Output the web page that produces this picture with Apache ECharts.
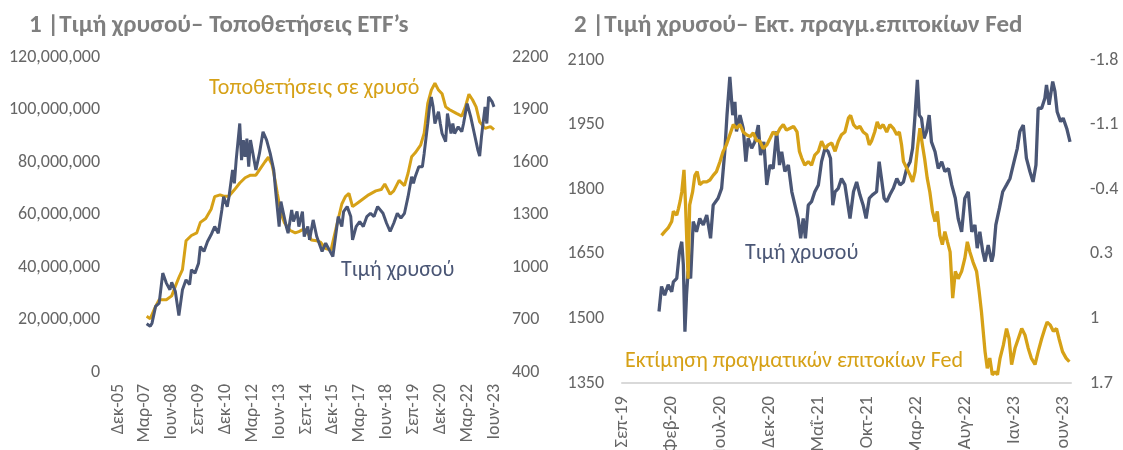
<!DOCTYPE html>
<html>
<head>
<meta charset="utf-8">
<script src="https://cdn.jsdelivr.net/npm/echarts@6/dist/echarts.min.js"></script>
<style>
  html, body { margin: 0; padding: 0; background: #ffffff; }
  #chart { width: 1123px; height: 450px; }
</style>
</head>
<body>
<div id="chart"></div>
<script>
// ---- Panel 1: gold price vs. gold ETF holdings (monthly) ----
const panel1Title = '1 |Τιμή χρυσού– Τοποθετήσεις ETF’s';
const panel1Ticks = ['Δεκ-05','Μαρ-07','Ιουν-08','Σεπ-09','Δεκ-10','Μαρ-12','Ιουν-13','Σεπ-14','Δεκ-15','Μαρ-17','Ιουν-18','Σεπ-19','Δεκ-20','Μαρ-22','Ιουν-23'];

// ETF holdings, millions of ounces
const etfHoldings = [
  ['2007-04',21.2],['2007-06',20.3],['2007-09',25],['2007-11',27.5],['2008-03',27.5],['2008-06',29],
  ['2008-08',32.6],['2008-10',36],['2008-12',39],['2009-02',50],['2009-05',52],['2009-08',53],
  ['2009-10',57],['2010-01',58.5],['2010-04',62],['2010-06',66.8],['2010-09',67.5],['2010-11',67],
  ['2011-02',67],['2011-05',69.4],['2011-08',72],['2011-11',74],['2012-02',75],['2012-05',75],
  ['2012-07',77],['2012-10',80],['2012-12',81.8],['2013-02',79],['2013-03',75.8],['2013-05',68],
  ['2013-07',60.6],['2013-09',56.8],['2013-12',54],['2014-03',53],['2014-05',53.5],['2014-08',54.5],
  ['2014-10',53],['2014-12',50.3],['2015-03',50],['2015-05',49.5],['2015-08',47],['2015-11',46.5],
  ['2016-02',55.4],['2016-05',64],['2016-07',66.8],['2016-09',68],['2016-11',63],['2017-02',64.5],
  ['2017-05',66],['2017-08',67.5],['2017-12',69],['2018-03',69.5],['2018-05',71.6],['2018-08',67.7],
  ['2018-10',69],['2019-01',73],['2019-04',71],['2019-06',75.7],['2019-08',82],['2019-10',83.5],
  ['2019-11',83.5],['2020-01',86.4],['2020-03',91],['2020-05',102.3],['2020-07',107.4],['2020-09',110],
  ['2020-11',107.4],['2021-01',106],['2021-03',101],['2021-05',100],['2021-09',98.5],['2021-12',97.5],
  ['2022-02',101],['2022-04',105.8],['2022-06',103.7],['2022-08',101],['2022-10',95.3],['2023-01',92.8],
  ['2023-04',93.5],['2023-06',92.3]
];

// Gold price, USD per ounce (monthly)
const goldPriceMonthly = [
  ['2007-04',676],['2007-06',661],['2007-07',679],['2007-09',775],['2007-11',794],['2008-01',965],
  ['2008-03',908],['2008-05',870],['2008-06',913],['2008-08',861],['2008-10',722],['2008-12',870],
  ['2009-02',927],['2009-04',899],['2009-05',984],['2009-07',965],['2009-09',1022],['2009-10',1117],
  ['2009-12',1089],['2010-02',1146],['2010-04',1184],['2010-06',1231],['2010-08',1193],['2010-10',1326],
  ['2010-11',1402],['2011-01',1345],['2011-02',1402],['2011-04',1554],['2011-05',1478],['2011-06',1611],
  ['2011-08',1820],['2011-09',1611],['2011-10',1725],['2011-11',1630],['2011-12',1734],['2012-01',1573],
  ['2012-02',1725],['2012-03',1668],['2012-05',1554],['2012-07',1649],['2012-09',1773],['2012-11',1725],
  ['2013-01',1649],['2013-03',1554],['2013-04',1440],['2013-06',1231],['2013-07',1374],['2013-08',1326],
  ['2013-10',1231],['2013-11',1193],['2014-01',1326],['2014-02',1260],['2014-04',1317],['2014-05',1231],
  ['2014-07',1317],['2014-08',1174],['2014-10',1231],['2014-11',1155],['2015-01',1269],['2015-03',1174],
  ['2015-04',1184],['2015-06',1089],['2015-08',1136],['2015-10',1098],['2015-12',1060],['2016-02',1212],
  ['2016-03',1288],['2016-05',1231],['2016-06',1317],['2016-08',1345],['2016-10',1288],['2016-11',1155],
  ['2017-01',1231],['2017-03',1260],['2017-05',1231],['2017-07',1288],['2017-09',1307],['2017-11',1288],
  ['2018-01',1345],['2018-04',1307],['2018-06',1250],['2018-08',1203],['2018-10',1250],['2018-12',1307],
  ['2019-02',1279],['2019-04',1307],['2019-06',1402],['2019-08',1516],['2019-09',1478],['2019-10',1516],
  ['2019-12',1573],['2020-02',1573],['2020-03',1649],['2020-05',1820],['2020-06',1915],['2020-07',1972],
  ['2020-08',1915],['2020-09',1820],['2020-11',1887],['2020-12',1820],['2021-01',1763],['2021-03',1716],
  ['2021-04',1877],['2021-06',1763],['2021-07',1820],['2021-08',1763],['2021-10',1801],['2021-12',1773],
  ['2022-01',1820],['2022-03',1934],['2022-05',1858],['2022-07',1763],['2022-09',1668],['2022-10',1634],
  ['2022-11',1744],['2023-01',1915],['2023-02',1820],['2023-03',1972],['2023-04',1981],['2023-05',1943],
  ['2023-06',1915]
];

// ---- Panel 2: gold price vs. Fed real rate estimate (daily) ----
const panel2Title = '2 |Τιμή χρυσού– Εκτ. πραγμ.επιτοκίων Fed';
const panel2Ticks = ['Σεπ-19','Φεβ-20','Ιουλ-20','Δεκ-20','Μαΐ-21','Οκτ-21','Μαρ-22','Αυγ-22','Ιαν-23','Ιουν-23'];

const goldPriceDaily = [
  ['2019-12-25',1516],['2020-01-02',1574],['2020-01-12',1554],['2020-01-23',1578],['2020-02-03',1562],
  ['2020-02-08',1585],['2020-02-18',1593],['2020-02-26',1655],['2020-03-04',1678],['2020-03-09',1624],
  ['2020-03-14',1469],['2020-03-19',1554],['2020-03-24',1609],['2020-04-01',1593],['2020-04-09',1725],
  ['2020-04-19',1701],['2020-04-29',1732],['2020-05-10',1717],['2020-05-21',1740],['2020-06-02',1686],
  ['2020-06-10',1763],['2020-06-25',1779],['2020-07-06',1802],['2020-07-16',1887],['2020-07-23',1972],
  ['2020-08-01',2061],['2020-08-10',1972],['2020-08-17',2003],['2020-08-22',1934],['2020-09-02',1972],
  ['2020-09-12',1941],['2020-09-20',1864],['2020-09-27',1918],['2020-10-08',1895],['2020-10-18',1910],
  ['2020-10-29',1949],['2020-11-05',1879],['2020-11-15',1910],['2020-11-24',1810],['2020-12-04',1856],
  ['2020-12-14',1848],['2020-12-25',1934],['2021-01-03',1856],['2021-01-10',1887],['2021-01-20',1841],
  ['2021-01-31',1856],['2021-02-10',1794],['2021-02-19',1763],['2021-02-28',1732],['2021-03-08',1686],
  ['2021-03-16',1732],['2021-03-23',1686],['2021-04-01',1763],['2021-04-11',1771],['2021-04-21',1794],
  ['2021-05-02',1810],['2021-05-12',1864],['2021-05-23',1895],['2021-06-02',1887],['2021-06-09',1872],
  ['2021-06-16',1763],['2021-06-23',1794],['2021-07-03',1802],['2021-07-13',1825],['2021-07-24',1810],
  ['2021-08-04',1756],['2021-08-09',1732],['2021-08-20',1794],['2021-08-30',1817],['2021-09-09',1787],
  ['2021-09-19',1763],['2021-09-28',1732],['2021-10-08',1779],['2021-10-18',1787],['2021-10-31',1794],
  ['2021-11-08',1864],['2021-11-15',1825],['2021-11-23',1779],['2021-12-01',1771],['2021-12-11',1787],
  ['2021-12-22',1802],['2022-01-02',1825],['2022-01-12',1810],['2022-01-23',1817],['2022-02-02',1848],
  ['2022-02-12',1864],['2022-02-19',1895],['2022-02-26',1972],['2022-03-05',2054],['2022-03-11',1972],
  ['2022-03-18',1965],['2022-03-26',1918],['2022-04-03',1934],['2022-04-11',1972],['2022-04-18',1910],
  ['2022-04-29',1887],['2022-05-09',1848],['2022-05-20',1864],['2022-05-30',1841],['2022-06-10',1848],
  ['2022-06-20',1810],['2022-07-01',1779],['2022-07-10',1732],['2022-07-21',1701],['2022-07-31',1779],
  ['2022-08-11',1794],['2022-08-22',1701],['2022-09-01',1717],['2022-09-08',1663],['2022-09-16',1701],
  ['2022-09-25',1655],['2022-10-02',1632],['2022-10-12',1670],['2022-10-23',1632],['2022-10-28',1647],
  ['2022-11-05',1717],['2022-11-16',1756],['2022-11-26',1794],['2022-12-08',1810],['2022-12-19',1825],
  ['2022-12-29',1856],['2023-01-11',1895],['2023-01-19',1934],['2023-01-30',1949],['2023-02-08',1872],
  ['2023-02-18',1841],['2023-02-27',1817],['2023-03-08',1856],['2023-03-15',1988],['2023-03-26',1988],
  ['2023-04-05',2011],['2023-04-10',2042],['2023-04-18',1996],['2023-04-29',2050],['2023-05-06',2027],
  ['2023-05-13',1980],['2023-05-24',1957],['2023-06-01',1965],['2023-06-12',1941],['2023-06-22',1910]
];

// Fed real rate estimate, % (plotted on an inverted axis)
const realRateEstimate = [
  ['2020-01-02',0.10],['2020-01-12',0.06],['2020-01-23',0.02],['2020-02-03',-0.05],['2020-02-08',-0.16],
  ['2020-02-18',-0.12],['2020-02-23',-0.19],['2020-02-28',-0.27],['2020-03-04',-0.37],['2020-03-11',-0.61],
  ['2020-03-16',-0.23],['2020-03-24',0.57],['2020-03-29',-0.23],['2020-04-07',-0.37],['2020-04-14',-0.55],
  ['2020-04-21',-0.59],['2020-04-29',-0.45],['2020-05-10',-0.48],['2020-05-21',-0.48],['2020-05-31',-0.50],
  ['2020-06-10',-0.55],['2020-06-20',-0.59],['2020-07-01',-0.70],['2020-07-11',-0.81],['2020-07-21',-0.88],
  ['2020-08-01',-0.99],['2020-08-12',-1.10],['2020-08-22',-1.06],['2020-09-02',-1.10],['2020-09-12',-1.02],
  ['2020-09-22',-0.99],['2020-10-03',-0.97],['2020-10-13',-1.01],['2020-10-23',-0.93],['2020-11-03',-0.92],
  ['2020-11-13',-0.84],['2020-11-24',-0.88],['2020-12-04',-0.95],['2020-12-14',-1.02],['2020-12-25',-0.99],
  ['2021-01-05',-1.06],['2021-01-15',-1.10],['2021-01-25',-1.04],['2021-02-05',-1.06],['2021-02-15',-1.08],
  ['2021-02-25',-1.02],['2021-03-04',-0.81],['2021-03-11',-0.74],['2021-03-21',-0.66],['2021-04-01',-0.70],
  ['2021-04-11',-0.66],['2021-04-21',-0.77],['2021-05-02',-0.81],['2021-05-12',-0.92],['2021-05-23',-0.84],
  ['2021-06-02',-0.88],['2021-06-13',-0.90],['2021-06-23',-0.81],['2021-07-03',-0.92],['2021-07-13',-0.99],
  ['2021-07-24',-1.02],['2021-08-04',-1.17],['2021-08-11',-1.20],['2021-08-20',-1.10],['2021-08-30',-1.06],
  ['2021-09-09',-1.08],['2021-09-19',-1.02],['2021-09-30',-0.99],['2021-10-08',-0.88],['2021-10-15',-0.92],
  ['2021-10-25',-1.02],['2021-11-02',-1.13],['2021-11-10',-1.06],['2021-11-20',-1.10],['2021-12-01',-1.02],
  ['2021-12-11',-1.10],['2021-12-22',-1.06],['2022-01-02',-0.99],['2022-01-10',-1.02],['2022-01-17',-0.88],
  ['2022-01-23',-0.70],['2022-02-02',-0.63],['2022-02-12',-0.55],['2022-02-19',-0.48],['2022-02-26',-0.59],
  ['2022-03-05',-0.84],['2022-03-13',-1.06],['2022-03-21',-0.88],['2022-03-28',-0.73],['2022-04-05',-0.52],
  ['2022-04-13',-0.37],['2022-04-21',-0.16],['2022-04-29',-0.05],['2022-05-06',-0.16],['2022-05-14',0.10],
  ['2022-05-22',0.20],['2022-05-30',0.06],['2022-06-07',0.17],['2022-06-15',0.28],['2022-06-23',0.78],
  ['2022-07-01',0.49],['2022-07-10',0.57],['2022-07-21',0.49],['2022-07-31',0.35],['2022-08-08',0.17],
  ['2022-08-16',0.28],['2022-08-26',0.39],['2022-09-06',0.49],['2022-09-14',0.71],['2022-09-21',0.93],
  ['2022-10-02',1.36],['2022-10-09',1.54],['2022-10-17',1.43],['2022-10-25',1.61],['2022-11-03',1.58],
  ['2022-11-10',1.61],['2022-11-18',1.43],['2022-11-28',1.29],['2022-12-08',1.11],['2022-12-16',1.22],
  ['2022-12-24',1.50],['2023-01-04',1.32],['2023-01-14',1.22],['2023-01-25',1.11],['2023-02-04',1.18],
  ['2023-02-13',1.32],['2023-02-22',1.43],['2023-03-05',1.50],['2023-03-15',1.36],['2023-03-26',1.22],
  ['2023-04-05',1.11],['2023-04-12',1.04],['2023-04-21',1.07],['2023-05-01',1.14],['2023-05-11',1.11],
  ['2023-05-19',1.22],['2023-05-30',1.36],['2023-06-10',1.43],['2023-06-20',1.47]
];

// ---- helpers: dates -> months elapsed since the first tick of each panel ----
function monthsSince(dateStr, baseYear, baseMonth) {
  const p = dateStr.split('-').map(Number);
  const y = p[0], m = p[1], d = p[2] || 1;
  const daysInMonth = new Date(y, m, 0).getDate();
  return (y - baseYear) * 12 + (m - baseMonth) + (d - 1) / daysInMonth;
}
const toPanel1 = rows => rows.map(r => [monthsSince(r[0], 2005, 12), r[1]]);
const toPanel2 = rows => rows.map(r => [monthsSince(r[0], 2019, 9), r[1]]);
const withCommas = v => String(Math.round(v)).replace(/\B(?=(\d{3})+(?!\d))/g, ',');
const plain = v => String(v);

const FONT = 'Carlito';
const GOLD = '#d6a117';
const SLATE = '#4a5675';
const LABEL = '#666666';
const TITLE = '#7f7f7f';

const tickLabel = (ticks, step) => v => {
  const i = v / step;
  return Math.abs(i - Math.round(i)) < 1e-6 ? (ticks[Math.round(i)] || '') : '';
};

const baseAxisLabel = { color: LABEL, fontFamily: FONT, fontSize: 18 };
const hidden = { axisLine: { show: false }, axisTick: { show: false }, splitLine: { show: false } };

const option = {
  backgroundColor: '#ffffff',
  animation: false,
  title: [
    { text: panel1Title, left: 24, top: 8,
      textStyle: { fontFamily: FONT, fontSize: 25, fontWeight: 'bold', color: TITLE } },
    { text: panel2Title, left: 569, top: 8,
      textStyle: { fontFamily: FONT, fontSize: 25, fontWeight: 'bold', color: TITLE } }
  ],
  // plot areas are fixed; rotated date labels may run off the bottom edge
  grid: [
    { left: 118, right: 629, top: 57, bottom: 78, containLabel: false, outerBoundsMode: 'none' },
    { left: 622, right: 52, top: 60, bottom: 67, containLabel: false, outerBoundsMode: 'none' }
  ],
  xAxis: [
    { gridIndex: 0, type: 'value', min: 0, max: 210, interval: 15, ...hidden,
      axisLabel: { ...baseAxisLabel, rotate: 90, margin: 12,
        formatter: tickLabel(panel1Ticks, 15) } },
    { gridIndex: 1, type: 'value', min: 0, max: 45.8, interval: 5,
      axisLine: { show: true, onZero: false, lineStyle: { color: '#d9d9d9', width: 2 } },
      axisTick: { show: false }, splitLine: { show: false },
      axisLabel: { ...baseAxisLabel, fontSize: 18.5, rotate: 90, margin: 13, showMaxLabel: false,
        formatter: tickLabel(panel2Ticks, 5) } }
  ],
  yAxis: [
    { gridIndex: 0, type: 'value', position: 'left', min: 0, max: 120, interval: 20, ...hidden,
      axisLabel: { ...baseAxisLabel, margin: 18, formatter: v => withCommas(v * 1e6) } },
    { gridIndex: 0, type: 'value', position: 'right', min: 400, max: 2200, interval: 300, ...hidden,
      axisLabel: { ...baseAxisLabel, margin: 18, formatter: plain } },
    { gridIndex: 1, type: 'value', position: 'left', min: 1350, max: 2100, interval: 150, ...hidden,
      axisLabel: { ...baseAxisLabel, margin: 18, formatter: plain } },
    { gridIndex: 1, type: 'value', position: 'right', inverse: true, min: -1.8, max: 1.7, interval: 0.7, ...hidden,
      axisLabel: { ...baseAxisLabel, margin: 19 } }
  ],
  series: [
    { name: 'Τοποθετήσεις σε χρυσό', type: 'line', xAxisIndex: 0, yAxisIndex: 0,
      data: toPanel1(etfHoldings), showSymbol: false, symbol: 'none',
      lineStyle: { color: GOLD, width: 3 }, z: 2 },
    { name: 'Τιμή χρυσού', type: 'line', xAxisIndex: 0, yAxisIndex: 1,
      data: toPanel1(goldPriceMonthly), showSymbol: false, symbol: 'none',
      lineStyle: { color: SLATE, width: 3 }, z: 3 },
    { name: 'Τιμή χρυσού (ημερήσια)', type: 'line', xAxisIndex: 1, yAxisIndex: 2,
      data: toPanel2(goldPriceDaily), showSymbol: false, symbol: 'none',
      lineStyle: { color: SLATE, width: 3.3 }, z: 2 },
    { name: 'Εκτίμηση πραγματικών επιτοκίων Fed', type: 'line', xAxisIndex: 1, yAxisIndex: 3,
      data: toPanel2(realRateEstimate), showSymbol: false, symbol: 'none',
      lineStyle: { color: GOLD, width: 3.3 }, z: 3 }
  ],
  graphic: [
    { type: 'text', left: 209, top: 77,
      style: { text: 'Τοποθετήσεις σε χρυσό', fill: GOLD, font: '22px Carlito' } },
    { type: 'text', left: 341, top: 259,
      style: { text: 'Τιμή χρυσού', fill: SLATE, font: '22px Carlito' } },
    { type: 'text', left: 745, top: 242,
      style: { text: 'Τιμή χρυσού', fill: SLATE, font: '22px Carlito' } },
    { type: 'text', left: 625, top: 350,
      style: { text: 'Εκτίμηση πραγματικών επιτοκίων Fed', fill: GOLD, font: '22px Carlito' } }
  ]
};

const chart = echarts.init(document.getElementById('chart'), null, { renderer: 'canvas' });
chart.setOption(option);
</script>
</body>
</html>
